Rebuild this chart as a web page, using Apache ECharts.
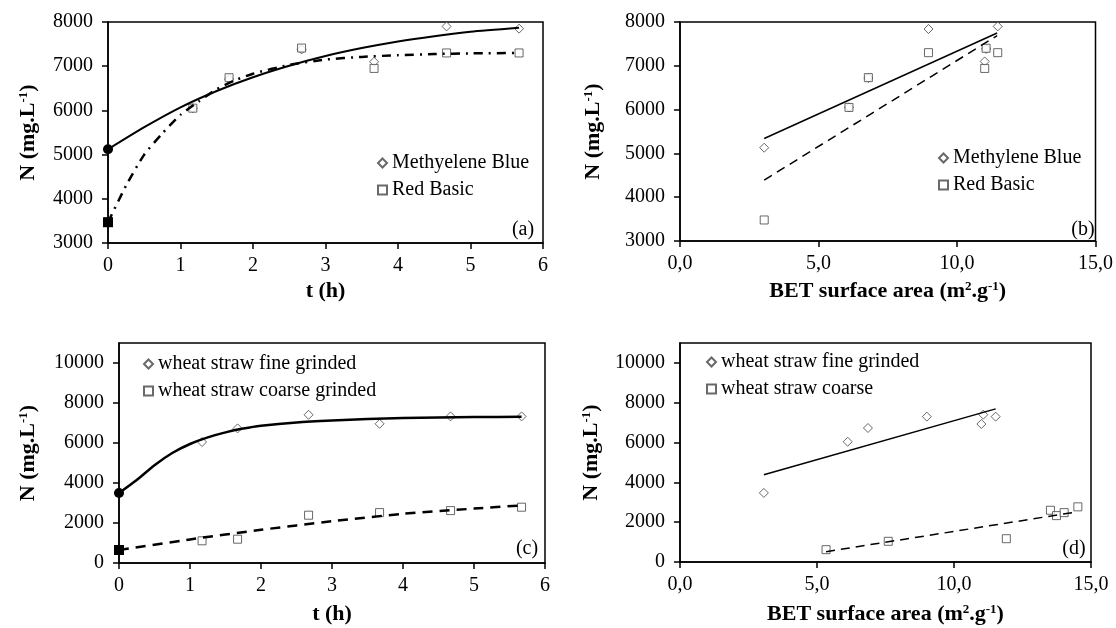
<!DOCTYPE html>
<html>
<head>
<meta charset="utf-8">
<script src="https://cdn.jsdelivr.net/npm/echarts@6/dist/echarts.min.js"></script>
<style>
    html, body { margin: 0; padding: 0; background: #fff; }
    #adsorption { width: 1116px; height: 628px; }
</style>
</head>
<body>
<div id="adsorption"></div>
<script>

// Data
// ------------------------------

// (a) N vs time, Methylene Blue / Red Basic
var timeA = [0, 1.17, 1.67, 2.67, 3.67, 4.67, 5.67];
var mbTimeN = [5130, 6050, 6710, 7380, 7100, 7900, 7850];
var rbTimeN = [3480, 6050, 6740, 7410, 6950, 7300, 7300];
var mbFitT = [0, 0.5, 1, 1.5, 2, 2.5, 3, 3.5, 4, 4.5, 5, 5.67];
var mbFitN = [5120, 5620, 6070, 6440, 6750, 7010, 7230, 7410, 7560, 7680, 7780, 7870];
var rbFitT = [0, 0.25, 0.5, 0.75, 1, 1.25, 1.5, 1.75, 2, 2.5, 3, 3.5, 4, 4.5, 5, 5.67];
var rbFitN = [3470, 4300, 5000, 5480, 5900, 6200, 6480, 6680, 6830, 7030, 7150, 7210, 7250, 7275, 7290, 7300];

// (b) N vs BET surface area, Methylene Blue / Red Basic
var betB = [3.04, 6.1, 6.8, 8.97, 11.0, 11.05, 11.47];
var mbBetN = [5130, 6050, 6720, 7840, 7100, 7385, 7900];
var rbBetN = [3480, 6050, 6730, 7300, 6940, 7400, 7300];
var fitBetB = [3.04, 11.45];
var mbBetFitN = [5340, 7750];
var rbBetFitN = [4390, 7690];

// (c) N vs time, wheat straw fine / coarse
var timeC = [0, 1.17, 1.67, 2.67, 3.67, 4.67, 5.67];
var fineTimeN = [3500, 6050, 6730, 7410, 6960, 7330, 7330];
var coarseTimeN = [650, 1110, 1190, 2390, 2520, 2620, 2790];
var fineFitT = [0, 0.25, 0.5, 0.75, 1, 1.25, 1.5, 1.75, 2, 2.5, 3, 3.5, 4, 4.5, 5, 5.67];
var fineFitN = [3500, 4150, 4890, 5500, 5950, 6280, 6530, 6720, 6860, 7030, 7130, 7200, 7250, 7280, 7300, 7310];
var coarseFitT = [0, 1, 2, 3, 4, 5, 5.67];
var coarseFitN = [650, 1180, 1660, 2090, 2460, 2720, 2880];

// (d) N vs BET surface area, wheat straw fine / coarse
var fineBet = [3.06, 6.12, 6.86, 9.01, 11.0, 11.07, 11.52];
var fineBetN = [3470, 6040, 6730, 7300, 6930, 7400, 7300];
var coarseBet = [5.33, 7.6, 11.91, 13.52, 13.74, 14.02, 14.52];
var coarseBetN = [620, 1040, 1170, 2600, 2330, 2480, 2770];
var fineBetFitX = [3.06, 11.52];
var fineBetFitN = [4380, 7690];
var coarseBetFitX = [5.33, 14.32];
var coarseBetFitN = [520, 2480];

// Tick settings
var timeTicks = [0, 6, 1];
var betTicks = [0, 15, 5];
var nTicksTop = [3000, 8000, 1000];
var nTicksBottom = [0, 11000, 2000];

// Legend labels
var legendA = ['Methyelene Blue', 'Red Basic'];
var legendB = ['Methylene Blue', 'Red Basic'];
var legendC = ['wheat straw fine grinded', 'wheat straw coarse grinded'];
var legendD = ['wheat straw fine grinded', 'wheat straw coarse'];
var panelTags = ['(a)', '(b)', '(c)', '(d)'];


var EchartsAdsorption = function() {

    var serif = '"Liberation Serif", "Times New Roman", serif';

    var pairs = function(xs, ys) {
        return xs.map(function(x, i) { return [x, ys[i]]; });
    };

    // fit curve; only the first point carries a filled marker
    var fitData = function(xs, ys, startSymbol) {
        return xs.map(function(x, i) {
            if (i === 0 && startSymbol) {
                return {value: [x, ys[i]], symbol: startSymbol, symbolSize: 10};
            }
            return {value: [x, ys[i]], symbol: 'none'};
        });
    };

    var supRich = {
        sup: {
            fontFamily: serif,
            fontSize: 13,
            fontWeight: 'bold',
            color: '#000',
            verticalAlign: 'top',
            padding: [0, 0, 10, 0]
        }
    };

    var nameStyle = {fontFamily: serif, fontSize: 22, fontWeight: 'bold', color: '#000', rich: supRich};

    var xAxisOf = function(gridIndex, ticks, name, decimals, gap) {
        return {
            type: 'value',
            gridIndex: gridIndex,
            min: ticks[0],
            max: ticks[1],
            interval: ticks[2],
            name: name,
            nameLocation: 'middle',
            nameGap: gap,
            nameTextStyle: nameStyle,
            axisLine: {lineStyle: {color: '#000', width: 1.5}},
            axisTick: {length: 6, lineStyle: {color: '#000', width: 1.5}},
            axisLabel: {
                fontFamily: serif, fontSize: 20, color: '#000', margin: 13,
                formatter: function(v) {
                    return decimals ? v.toFixed(1).replace('.', ',') : String(v);
                }
            },
            splitLine: {show: false}
        };
    };

    var yAxisOf = function(gridIndex, ticks, gap) {
        return {
            type: 'value',
            gridIndex: gridIndex,
            min: ticks[0],
            max: ticks[1],
            interval: ticks[2],
            name: 'N (mg.L{sup|-1})',
            nameLocation: 'middle',
            nameGap: gap,
            nameTextStyle: nameStyle,
            axisLine: {lineStyle: {color: '#000', width: 1.5}},
            axisTick: {length: 6, lineStyle: {color: '#000', width: 1.5}},
            axisLabel: {
                fontFamily: serif, fontSize: 20, color: '#000', margin: 15,
                showMaxLabel: ticks[1] % ticks[2] === 0,
                formatter: function(v) { return String(v); }
            },
            splitLine: {show: false}
        };
    };

    var scatterOf = function(name, idx, data, symbol, size) {
        return {
            name: name,
            type: 'scatter',
            xAxisIndex: idx,
            yAxisIndex: idx,
            data: data,
            symbol: symbol,
            symbolSize: size,
            itemStyle: {color: '#fff', borderColor: '#444', borderWidth: 1},
            z: 3
        };
    };

    var fitOf = function(idx, data, width, dash, smooth) {
        return {
            name: 'fit',
            type: 'line',
            xAxisIndex: idx,
            yAxisIndex: idx,
            data: data,
            smooth: smooth ? 0.2 : false,
            showAllSymbol: true,
            itemStyle: {color: '#000'},
            lineStyle: {color: '#000', width: width, type: dash},
            z: 4
        };
    };

    var legendOf = function(data, left, top) {
        return {
            data: data,
            orient: 'vertical',
            left: left,
            top: top,
            itemWidth: 9,
            itemHeight: 9,
            itemGap: 7,
            selectedMode: false,
            textStyle: {fontFamily: serif, fontSize: 20, color: '#000'}
        };
    };

    var tagOf = function(text, x, y) {
        return {
            type: 'text',
            x: x,
            y: y,
            style: {text: text, fontFamily: serif, fontSize: 20, fill: '#000', align: 'center', verticalAlign: 'middle'}
        };
    };

    var _adsorptionPanels = function() {
        if (typeof echarts == 'undefined') {
            console.warn('Warning - echarts.min.js is not loaded.');
            return;
        }

        // Define element
        var chart_element = document.getElementById('adsorption');
        if (!chart_element) {
            return;
        }

        // Initialize chart
        var chart = echarts.init(chart_element, null, {renderer: 'canvas'});

        var gridBox = {show: true, borderColor: '#000', borderWidth: 1.5, backgroundColor: 'transparent'};

        chart.setOption({
            animation: false,
            backgroundColor: '#fff',

            grid: [
                Object.assign({left: 108, top: 22, width: 435, height: 221}, gridBox),
                Object.assign({left: 680, top: 22, width: 418, height: 219}, gridBox),
                Object.assign({left: 119, top: 343, width: 426, height: 220}, gridBox),
                Object.assign({left: 680, top: 343, width: 411, height: 219}, gridBox)
            ],

            xAxis: [
                xAxisOf(0, timeTicks, 't (h)', false, 37),
                xAxisOf(1, betTicks, 'BET surface area (m{sup|2}.g{sup|-1})', true, 39),
                xAxisOf(2, timeTicks, 't (h)', false, 40),
                xAxisOf(3, betTicks, 'BET surface area (m{sup|2}.g{sup|-1})', true, 41)
            ],

            yAxis: [
                yAxisOf(0, nTicksTop, 68),
                yAxisOf(1, nTicksTop, 75),
                yAxisOf(2, nTicksBottom, 79),
                yAxisOf(3, nTicksBottom, 77)
            ],

            legend: [
                legendOf(legendA, 372, 148),
                legendOf(legendB, 933, 143),
                legendOf(legendC, 138, 349),
                legendOf(legendD, 701, 347)
            ],

            graphic: [
                tagOf(panelTags[0], 523, 230),
                tagOf(panelTags[1], 1083, 230),
                tagOf(panelTags[2], 527, 549),
                tagOf(panelTags[3], 1074, 549)
            ],

            series: [
                // (a)
                scatterOf(legendA[0], 0, pairs(timeA, mbTimeN), 'diamond', 9),
                scatterOf(legendA[1], 0, pairs(timeA, rbTimeN), 'rect', 8),
                fitOf(0, fitData(mbFitT, mbFitN, 'circle'), 2, 'solid', true),
                fitOf(0, fitData(rbFitT, rbFitN, 'rect'), 2.5, [9, 6, 2, 6], true),

                // (b)
                scatterOf(legendB[0], 1, pairs(betB, mbBetN), 'diamond', 9),
                scatterOf(legendB[1], 1, pairs(betB, rbBetN), 'rect', 8),
                fitOf(1, fitData(fitBetB, mbBetFitN, null), 1.5, 'solid', false),
                fitOf(1, fitData(fitBetB, rbBetFitN, null), 1.5, [9, 6], false),

                // (c)
                scatterOf(legendC[0], 2, pairs(timeC, fineTimeN), 'diamond', 9),
                scatterOf(legendC[1], 2, pairs(timeC, coarseTimeN), 'rect', 8),
                fitOf(2, fitData(fineFitT, fineFitN, 'circle'), 2.5, 'solid', true),
                fitOf(2, fitData(coarseFitT, coarseFitN, 'rect'), 2.5, [10, 7], true),

                // (d)
                scatterOf(legendD[0], 3, pairs(fineBet, fineBetN), 'diamond', 9),
                scatterOf(legendD[1], 3, pairs(coarseBet, coarseBetN), 'rect', 8),
                fitOf(3, fitData(fineBetFitX, fineBetFitN, null), 1.5, 'solid', false),
                fitOf(3, fitData(coarseBetFitX, coarseBetFitN, null), 1.5, [9, 6], false)
            ]
        });

        // Resize chart
        var resizeChart;
        window.addEventListener('resize', function() {
            clearTimeout(resizeChart);
            resizeChart = setTimeout(function() {
                chart.resize();
            }, 200);
        });
    };

    return {
        init: function() {
            _adsorptionPanels();
        }
    };
}();


// Initialize module
// ------------------------------

document.addEventListener('DOMContentLoaded', function() {
    EchartsAdsorption.init();
});

</script>
</body>
</html>
